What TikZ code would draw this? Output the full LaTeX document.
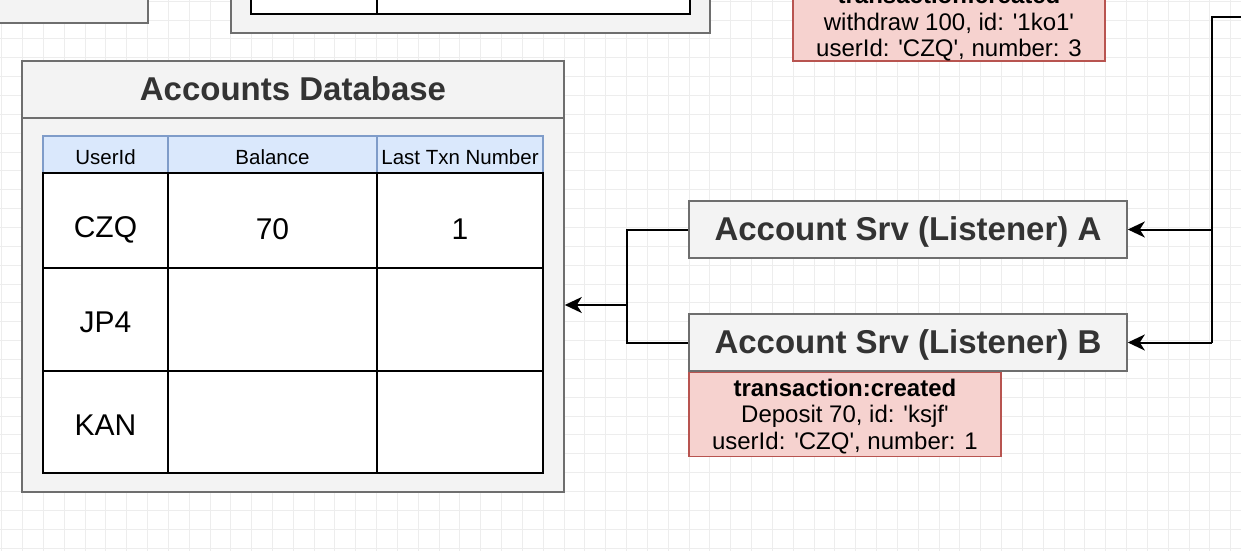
\documentclass[tikz,border=0pt]{standalone}
\usepackage{fontspec}
\setmainfont{Liberation Sans}
\usepackage{tikz}
\usetikzlibrary{arrows.meta}
\usetikzlibrary{positioning}

\definecolor{boxfill}{HTML}{F3F3F3}
\definecolor{boxline}{HTML}{6E6E6E}
\definecolor{evtfill}{HTML}{F6D2CF}
\definecolor{evtline}{HTML}{B85450}
\definecolor{hdrfill}{HTML}{DAE8FC}
\definecolor{hdrline}{HTML}{7F9CC9}
\definecolor{gridc}{HTML}{EDEDED}
\definecolor{titletext}{HTML}{333333}
\newcommand{\sq}{\textquotesingle}

\begin{document}
\begin{tikzpicture}[x=1pt,y=-1pt,
	every node/.style={font=\fontsize{24}{26.5}\selectfont, inner sep=0pt},
	greybox/.style={rectangle, draw=boxline, fill=boxfill, line width=1.6pt},
	srvbox/.style={greybox, minimum width=438, minimum height=57},
	srvtext/.style={font=\fontsize{33}{36}\selectfont\bfseries, text=titletext},
	evtbox/.style={rectangle, draw=evtline, fill=evtfill, line width=1.4pt, minimum width=312, minimum height=84},
	evttext/.style={align=center},
	hdrcell/.style={rectangle, draw=hdrline, fill=hdrfill, line width=1.4pt, minimum height=37},
	hdrtext/.style={font=\fontsize{20.5}{22}\selectfont},
	cell/.style={rectangle, draw=black, fill=white, line width=1.8pt},
	celltext/.style={font=\fontsize{30}{32}\selectfont},
	conn/.style={draw=black, line width=2pt},
	arr/.style={conn, -{Stealth[length=17pt, width=16pt, inset=5pt]}}]
	\clip (0,0) rectangle (1241,551);
	\fill[white] (0,0) rectangle (1241,551);
	% grid
	\foreach \gx in {0,...,59}
		\draw[gridc, line width=0.8pt] ({1.6+\gx*20.83},0) -- ++(0,551);
	\foreach \gy in {0,...,29}
		\draw[gridc, line width=0.8pt] (0,{1.1+\gy*18.86}) -- ++(1241,0);

	% cut off boxes at the top
	\node[greybox, minimum width=170, minimum height=50] (topleft) at (63,-2) {};
	\node[greybox, minimum width=479, minimum height=80] (topmid) at (470.5,-7) {};
	\node[cell, minimum width=126, minimum height=40] (topc1) at (314,-6) {};
	\node[cell, minimum width=313, minimum height=40] (topc2) at (533.5,-6) {};
	\node[evtbox] (evtold) at (949,19) {};
	\node[evttext] at ([yshift=-5]evtold.center) {\textbf{transaction:created}\\withdraw 100, id: \sq1ko1\sq\\userId: \sq CZQ\sq, number: 3};

	% accounts database
	\node[greybox, minimum width=542, minimum height=431] (db) at (293,276.5) {};
	\draw[boxline, line width=1.6pt] (db.west |- 0,118) -- (db.east |- 0,118);
	\node[srvtext] (dbtitle) at (293,89) {Accounts Database};
	\node[hdrcell, minimum width=125] (h1) at (105.5,154.5) {};
	\node[hdrcell, minimum width=209] (h2) at (272.5,154.5) {};
	\node[hdrcell, minimum width=166] (h3) at (460,154.5) {};
	\node[hdrtext] at ([yshift=-2.5]h1.center) {UserId};
	\node[hdrtext] at ([yshift=-2.5]h2.center) {Balance};
	\node[hdrtext] at ([yshift=-2.5]h3.center) {Last Txn Number};
	\node[cell, minimum width=125, minimum height=95] (r1c1) at (105.5,220.5) {};
	\node[cell, minimum width=209, minimum height=95] (r1c2) at (272.5,220.5) {};
	\node[cell, minimum width=166, minimum height=95] (r1c3) at (460,220.5) {};
	\node[cell, minimum width=125, minimum height=103] (r2c1) at (105.5,319.5) {};
	\node[cell, minimum width=209, minimum height=103] (r2c2) at (272.5,319.5) {};
	\node[cell, minimum width=166, minimum height=103] (r2c3) at (460,319.5) {};
	\node[cell, minimum width=125, minimum height=102] (r3c1) at (105.5,422) {};
	\node[cell, minimum width=209, minimum height=102] (r3c2) at (272.5,422) {};
	\node[cell, minimum width=166, minimum height=102] (r3c3) at (460,422) {};
	\node[celltext] at ([yshift=-9]r1c1.center) {CZQ};
	\node[celltext] at ([yshift=-9]r1c2.center) {70};
	\node[celltext] at ([yshift=-9]r1c3.center) {1};
	\node[celltext] at ([yshift=-3]r2c1.center) {JP4};
	\node[celltext] at ([yshift=-3]r3c1.center) {KAN};

	% listeners
	\node[srvbox] (srvA) at (908,229.5) {};
	\node[srvbox] (srvB) at (908,342.5) {};
	\node[srvtext] at ([yshift=-2.5]srvA.center) {Account Srv (Listener) A};
	\node[srvtext] at ([yshift=-2.5]srvB.center) {Account Srv (Listener) B};
	\node[evtbox, below=0pt of srvB.south west, anchor=north west] (evtnew) {};
	\node[evttext] at ([yshift=-2]evtnew.center) {\textbf{transaction:created}\\Deposit 70, id: \sq ksjf\sq\\userId: \sq CZQ\sq, number: 1};

	% connectors
	\coordinate (join) at (627,305);
	\coordinate (bus) at (1212,17);
	\coordinate (feed) at (1260,17);
	\draw[conn] (srvA.west) -| (join) |- (srvB.west);
	\draw[arr] (join) -- (join -| db.east);
	\draw[conn] (feed) -- (bus) -- (bus |- srvB.east);
	\draw[arr] (bus |- srvA.east) -- (srvA.east);
	\draw[arr] (bus |- srvB.east) -- (srvB.east);
\end{tikzpicture}
\end{document}
